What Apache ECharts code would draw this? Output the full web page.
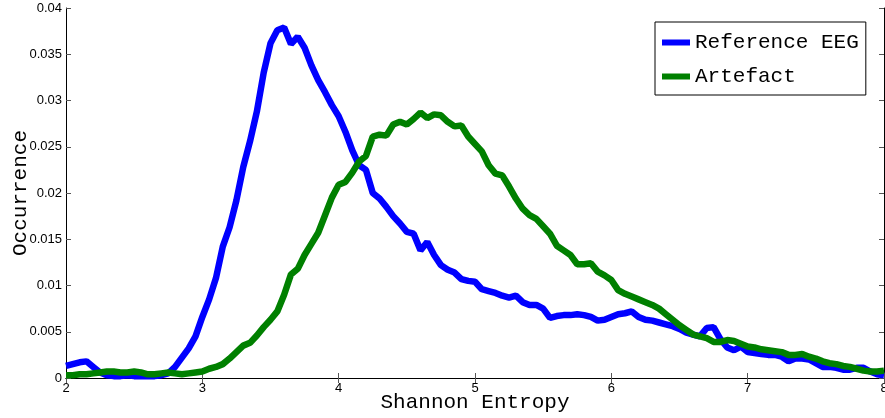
<!DOCTYPE html>
<html>
<head>
<meta charset="utf-8">
<script src="https://cdn.jsdelivr.net/npm/echarts@6/dist/echarts.min.js"></script>
<style>
html,body{margin:0;padding:0;background:#fff;}
#chart{width:885px;height:418px;}
</style>
</head>
<body>
<div id="chart"></div>
<script>
const entropy = [2.00,2.05,2.10,2.15,2.20,2.25,2.30,2.35,2.40,2.45,2.50,2.55,2.60,2.65,2.70,2.75,2.80,2.85,2.90,2.95,
3.00,3.05,3.10,3.15,3.20,3.25,3.30,3.35,3.40,3.45,3.50,3.55,3.60,3.65,3.70,3.75,3.80,3.85,3.90,3.95,
4.00,4.05,4.10,4.15,4.20,4.25,4.30,4.35,4.40,4.45,4.50,4.55,4.60,4.65,4.70,4.75,4.80,4.85,4.90,4.95,
5.00,5.05,5.10,5.15,5.20,5.25,5.30,5.35,5.40,5.45,5.50,5.55,5.60,5.65,5.70,5.75,5.80,5.85,5.90,5.95,
6.00,6.05,6.10,6.15,6.20,6.25,6.30,6.35,6.40,6.45,6.50,6.55,6.60,6.65,6.70,6.75,6.80,6.85,6.90,6.95,
7.00,7.05,7.10,7.15,7.20,7.25,7.30,7.35,7.40,7.45,7.50,7.55,7.60,7.65,7.70,7.75,7.80,7.85,7.90,7.95,8.00];

const referenceEEG = [0.0013,0.0015,0.0017,0.0018,0.0012,0.0006,0.0003,0.0002,0.0002,0.0003,0.0002,0.0002,0.0002,0.0002,0.0003,0.0005,0.0012,0.0022,0.0032,0.0045,
0.0066,0.0085,0.0108,0.0142,0.0163,0.0192,0.0228,0.0256,0.0288,0.0330,0.0362,0.0376,0.0379,0.0361,0.0369,0.0357,0.0338,0.0322,0.0309,0.0295,
0.0283,0.0266,0.0246,0.0230,0.0225,0.0200,0.0194,0.0185,0.0175,0.0167,0.0158,0.0156,0.0138,0.0147,0.0133,0.0122,0.0117,0.0114,0.0107,0.0105,
0.0104,0.0096,0.0094,0.0092,0.0089,0.0087,0.0089,0.0082,0.0079,0.0079,0.0075,0.0065,0.0067,0.0068,0.0068,0.0069,0.0068,0.0066,0.0062,0.0063,
0.0066,0.0069,0.0070,0.0072,0.0066,0.0063,0.0062,0.0060,0.0058,0.0056,0.0053,0.0049,0.0047,0.0045,0.0054,0.0055,0.0042,0.0033,0.0030,0.0034,
0.0028,0.0027,0.0026,0.0025,0.0025,0.0023,0.0018,0.0021,0.0021,0.0020,0.0016,0.0012,0.0012,0.0011,0.0009,0.0009,0.0011,0.0011,0.0007,0.0004,0.0003];

const artefact = [0.0003,0.0003,0.0004,0.0004,0.0005,0.0006,0.0007,0.0007,0.0006,0.0006,0.0007,0.0006,0.0004,0.0004,0.0005,0.0006,0.0005,0.0004,0.0005,0.0006,
0.0007,0.0010,0.0012,0.0015,0.0021,0.0028,0.0035,0.0038,0.0046,0.0055,0.0063,0.0072,0.0090,0.0112,0.0118,0.0133,0.0145,0.0157,0.0176,0.0195,
0.0209,0.0212,0.0222,0.0234,0.0240,0.0261,0.0263,0.0262,0.0274,0.0277,0.0274,0.0280,0.0287,0.0281,0.0285,0.0284,0.0277,0.0272,0.0273,0.0261,
0.0253,0.0245,0.0230,0.0221,0.0219,0.0207,0.0194,0.0183,0.0176,0.0172,0.0164,0.0156,0.0143,0.0138,0.0133,0.0123,0.0123,0.0124,0.0115,0.0111,
0.0106,0.0095,0.0091,0.0088,0.0085,0.0082,0.0079,0.0075,0.0069,0.0063,0.0057,0.0052,0.0047,0.0045,0.0043,0.0039,0.0039,0.0041,0.0040,0.0037,
0.0034,0.0033,0.0031,0.0030,0.0029,0.0028,0.0025,0.0025,0.0026,0.0023,0.0021,0.0018,0.0016,0.0015,0.0013,0.0012,0.0010,0.0008,0.0007,0.0007,0.0008];

const seriesNames = ['Reference EEG', 'Artefact'];
const xLabel = 'Shannon Entropy';
const yLabel = 'Occurrence';

const chart = echarts.init(document.getElementById('chart'), null, {renderer: 'canvas'});
const monoFont = '"Liberation Mono", "Courier New", monospace';
const sansFont = '"Liberation Sans", Arial, sans-serif';
const tickStyle = {show: true, inside: true, length: 5, lineStyle: {color: '#555', width: 1}};
const lineStyleAxis = {show: true, lineStyle: {color: '#000', width: 1}};

function pairs(xs, ys) { return xs.map((x, i) => [x, ys[i]]); }

chart.setOption({
  animation: false,
  backgroundColor: '#fff',
  grid: {left: 66, right: 1, top: 8, bottom: 40, containLabel: false, outerBoundsMode: 'none'},
  legend: {
    data: seriesNames,
    orient: 'vertical',
    left: 655, top: 22,
    backgroundColor: '#fff',
    borderColor: '#000', borderWidth: 1,
    padding: [10, 7, 8, 7],
    itemGap: 13,
    itemWidth: 28, itemHeight: 6,
    itemTextGap: 2,
    icon: 'rect',
    textStyle: {fontFamily: monoFont, fontSize: 21, color: '#000'}
  },
  xAxis: [{
    type: 'value', min: 2, max: 8, interval: 1, position: 'bottom',
    name: xLabel, nameLocation: 'middle', nameGap: 14, nameMoveOverlap: false,
    nameTextStyle: {fontFamily: monoFont, fontSize: 21, color: '#000'},
    axisLine: lineStyleAxis, axisTick: tickStyle, splitLine: {show: false},
    axisLabel: {fontFamily: sansFont, fontSize: 13, color: '#000', margin: 4}
  }, {
    type: 'value', min: 2, max: 8, interval: 1, position: 'top',
    axisLine: lineStyleAxis, axisTick: tickStyle, splitLine: {show: false},
    axisLabel: {show: false}
  }],
  yAxis: [{
    type: 'value', min: 0, max: 0.04, interval: 0.005, position: 'left',
    name: yLabel, nameLocation: 'middle', nameGap: 35, nameMoveOverlap: false,
    nameTextStyle: {fontFamily: monoFont, fontSize: 21, color: '#000'},
    axisLine: lineStyleAxis, axisTick: tickStyle, splitLine: {show: false},
    axisLabel: {fontFamily: sansFont, fontSize: 13, color: '#000', margin: 4}
  }, {
    type: 'value', min: 0, max: 0.04, interval: 0.005, position: 'right',
    axisLine: lineStyleAxis, axisTick: tickStyle, splitLine: {show: false},
    axisLabel: {show: false}
  }],
  series: [{
    name: seriesNames[0], type: 'line', data: pairs(entropy, referenceEEG),
    showSymbol: false, symbol: 'none', color: '#0000ff',
    lineStyle: {color: '#0000ff', width: 6.5}, z: 2
  }, {
    name: seriesNames[1], type: 'line', data: pairs(entropy, artefact),
    showSymbol: false, symbol: 'none', color: '#008000',
    lineStyle: {color: '#008000', width: 6.5}, z: 3
  }]
});
</script>
</body>
</html>
